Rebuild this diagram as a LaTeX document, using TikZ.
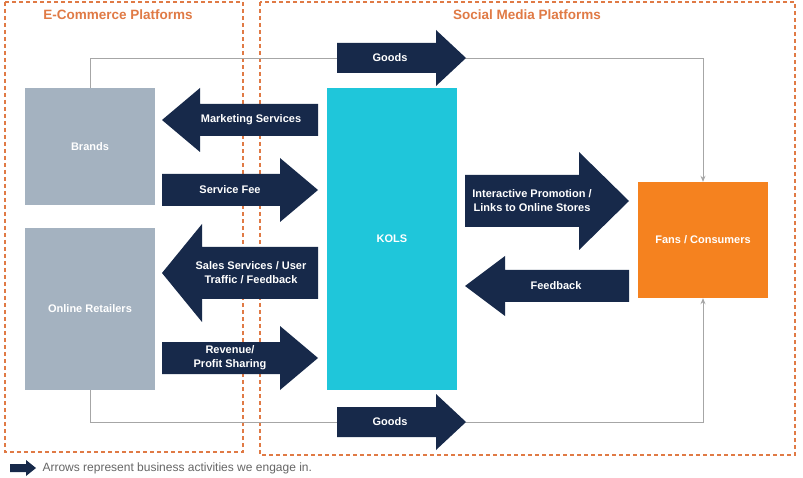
\documentclass[tikz,border=0pt]{standalone}
\usepackage{fontspec}
\setmainfont{Liberation Sans}
\usetikzlibrary{arrows.meta}
\definecolor{navy}{HTML}{17294A}
\definecolor{boxgray}{HTML}{A4B2C0}
\definecolor{kcyan}{HTML}{1FC6DA}
\definecolor{forange}{HTML}{F5821F}
\definecolor{dorange}{HTML}{E07A45}
\tikzset{
  blk/.style={draw=none,text=white,font=\bfseries\fontsize{11}{13}\selectfont,align=center},
  zone/.style={draw=dorange,dash pattern=on 4pt off 3pt,line width=1.4pt},
  zlabel/.style={text=dorange,font=\bfseries\fontsize{13.5}{16}\selectfont},
  alab/.style={text=white,font=\bfseries\fontsize{11}{14}\selectfont,align=center},
  link/.style={draw=gray!70,line width=0.8pt},
}
\newcommand{\harrR}[6]{\fill[navy] (#1,#3-#4) -- (#2-#6,#3-#4) -- (#2-#6,#3-#5) -- (#2,#3) -- (#2-#6,#3+#5) -- (#2-#6,#3+#4) -- (#1,#3+#4) -- cycle;}
\newcommand{\harrL}[6]{\fill[navy] (#2,#3-#4) -- (#1+#6,#3-#4) -- (#1+#6,#3-#5) -- (#1,#3) -- (#1+#6,#3+#5) -- (#1+#6,#3+#4) -- (#2,#3+#4) -- cycle;}
\begin{document}
\begin{tikzpicture}[x=1pt,y=-1pt]
\useasboundingbox[fill=white] (0,0) rectangle (803,478);
\draw[zone] (5,2) rectangle (243,452);
\draw[zone] (260,2) rectangle (795,455);
\node[zlabel] (zl1) at (118,15) {E-Commerce Platforms};
\node[zlabel] (zl2) at (527,15) {Social Media Platforms};
% boxes
\node[blk,fill=boxgray,minimum width=130pt,minimum height=117pt] (brands) at (90,146.5) {Brands};
\node[blk,fill=boxgray,minimum width=130pt,minimum height=162pt] (ret) at (90,309) {Online Retailers};
\node[blk,fill=kcyan,minimum width=130pt,minimum height=302pt] (kols) at (392,239) {KOLS};
\node[blk,fill=forange,minimum width=130pt,minimum height=116pt] (fans) at (703,240) {Fans / Consumers};
% gray links
\coordinate (t1) at (90,58); \coordinate (t2) at (703,58);
\coordinate (b1) at (90,422); \coordinate (b2) at (703,422);
\draw[link,-{Stealth[length=6pt,width=5pt]}] (brands.north) -- (t1) -- (t2) -- (fans.north);
\draw[link,-{Stealth[length=6pt,width=5pt]}] (ret.south) -- (b1) -- (b2) -- (fans.south);
% arrows
\harrR{337}{466}{58}{15}{28}{30}
\node[alab] (g1) at (390,58) {Goods};
\harrL{162}{318}{120}{16}{32}{38}
\node[alab] (ms) at (251,120) {Marketing Services};
\harrR{162}{318}{190}{16}{32}{38}
\node[alab] (sf) at (230,190) {Service Fee};
\harrL{162}{318}{273}{26}{49}{40}
\node[alab] (ss) at (251,273) {Sales Services / User\\Traffic / Feedback};
\harrR{162}{318}{358}{16}{32}{38}
\node[alab] (rev) at (230,358) {Revenue/\\Profit Sharing};
\harrR{337}{466}{422}{15}{28}{30}
\node[alab] (g2) at (390,422) {Goods};
\harrR{465}{629}{201}{26}{49}{50}
\node[alab] (ip) at (532,201) {Interactive Promotion /\\Links to Online Stores};
\harrL{465}{629}{286}{16}{30}{40}
\node[alab] (fb) at (556,286) {Feedback};
% legend
\harrR{10}{36}{468}{4}{8}{10}
\node[anchor=west,text=gray!80!black,font=\fontsize{12}{14}\selectfont] (leg) at (39,468) {Arrows represent business activities we engage in.};
\end{tikzpicture}
\end{document}
